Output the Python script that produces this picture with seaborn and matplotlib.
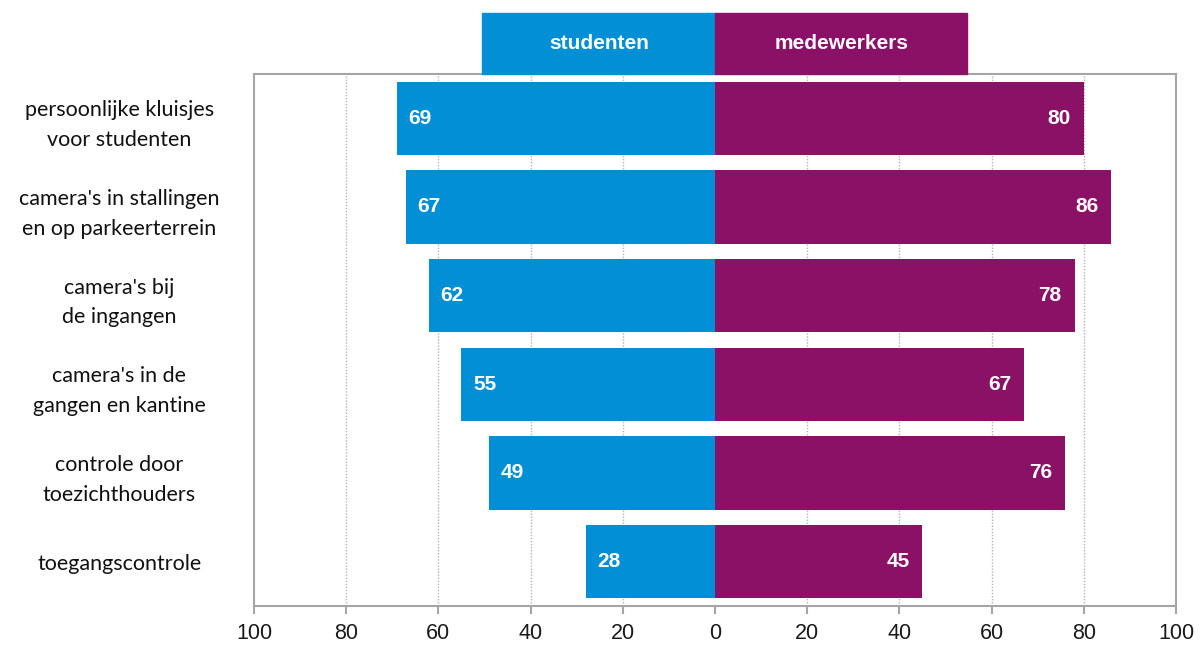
import matplotlib
matplotlib.use("Agg")
import matplotlib.pyplot as plt
import matplotlib.transforms as mtransforms
from matplotlib.patches import Rectangle
import seaborn as sns
import pandas as pd

categories = [
    "persoonlijke kluisjes\nvoor studenten",
    "camera's in stallingen\nen op parkeerterrein",
    "camera's bij\nde ingangen",
    "camera's in de\ngangen en kantine",
    "controle door\ntoezichthouders",
    "toegangscontrole",
]
studenten = [69, 67, 62, 55, 49, 28]
medewerkers = [80, 86, 78, 67, 76, 45]
series_names = ["studenten", "medewerkers"]
tick_values = [-100, -80, -60, -40, -20, 0, 20, 40, 60, 80, 100]
tick_labels = ["100", "80", "60", "40", "20", "0", "20", "40", "60", "80", "100"]

BLUE = "#038FD6"
PURPLE = "#8B1167"
GRAY = "#A6A6A6"

sns.set_theme(style="white")
plt.rcParams["font.family"] = ["Liberation Sans", "DejaVu Sans"]

df = pd.DataFrame({"cat": categories, "stud": [-v for v in studenten], "med": medewerkers})

fig = plt.figure(figsize=(12, 6.46), dpi=100)
ax = fig.add_axes([254 / 1200, 1 - 606 / 646, 922 / 1200, 532 / 646])

sns.barplot(data=df, x="stud", y="cat", orient="h", color=BLUE, saturation=1,
            width=0.83, ax=ax, zorder=3, linewidth=0)
sns.barplot(data=df, x="med", y="cat", orient="h", color=PURPLE, saturation=1,
            width=0.83, ax=ax, zorder=3, linewidth=0)

ax.set_xlim(-100, 100)
ax.set_xticks(tick_values)
ax.set_xticklabels(tick_labels, fontsize=15.5, color="#1a1a1a")
ax.set_xlabel("")
ax.set_ylabel("")

ax.set_yticks(range(len(categories)))
ax.set_yticklabels(categories, fontsize=15.5, color="#111111",
                   family=["Lato", "DejaVu Sans"], ha="center", multialignment="center",
                   linespacing=1.6)
ax.tick_params(axis="y", length=0, pad=97)
ax.tick_params(axis="x", length=6, width=1.5, color=GRAY, direction="out", pad=6, bottom=True)

for sp in ax.spines.values():
    sp.set_color(GRAY)
    sp.set_linewidth(1.5)
    sp.set_visible(True)

for v in tick_values[1:-1]:
    if v != 0:
        ax.axvline(v, color="#B5B5B5", linestyle=(0, (1, 1.2)), linewidth=1.0, zorder=1)

for i, (s, m) in enumerate(zip(studenten, medewerkers)):
    ax.text(-s + 2.5, i, str(s), ha="left", va="center", color="white",
            fontsize=15, fontweight="bold", zorder=5)
    ax.text(m - 2.8, i, str(m), ha="right", va="center", color="white",
            fontsize=15, fontweight="bold", zorder=5)

# header boxes above the plot
trans = mtransforms.blended_transform_factory(ax.transData, ax.transAxes)
hdr_h = 61 / 532
ax.add_patch(Rectangle((-50.5, 1.0), 50.4, hdr_h, transform=trans, color=BLUE,
                       clip_on=False, zorder=4))
ax.add_patch(Rectangle((0.1, 1.0), 54.6, hdr_h, transform=trans, color=PURPLE,
                       clip_on=False, zorder=4))
ax.text(-25.2, 1.0 + hdr_h / 2, series_names[0], transform=trans, ha="center", va="center",
        color="white", fontsize=15, fontweight="bold", zorder=6, clip_on=False)
ax.text(27.4, 1.0 + hdr_h / 2, series_names[1], transform=trans, ha="center", va="center",
        color="white", fontsize=15, fontweight="bold", zorder=6, clip_on=False)

fig.savefig("out.png", dpi=100)
